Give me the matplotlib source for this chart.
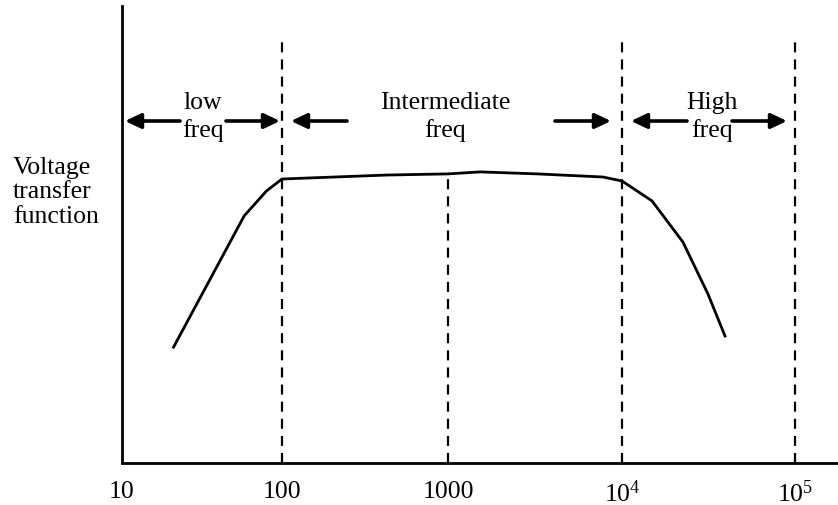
import numpy as np
import matplotlib
matplotlib.use("Agg")
import matplotlib.pyplot as plt

# ---- data ----
freq = [21, 58, 80, 100, 430, 1000, 1530, 3250, 7780, 10000, 14900, 22500, 31400, 39400]
gain = [0.408, 0.870, 0.958, 1.000, 1.014, 1.018, 1.025, 1.018, 1.007, 0.993, 0.923, 0.778, 0.595, 0.447]
boundaries = [100, 1000, 10000, 100000]
tick_vals = [10, 100, 1000, 10000, 100000]
tick_labels = ["10", "100", "1000", r"$10^{4}$", r"$10^{5}$"]
band_names = [["low", "freq"], ["Intermediate", "freq"], ["High", "freq"]]
ylabel_lines = ["Voltage", "transfer", "function"]

plt.rcParams['font.family'] = ['Liberation Serif', 'DejaVu Serif']
plt.rcParams['mathtext.fontset'] = 'custom'
plt.rcParams['mathtext.rm'] = 'Liberation Serif'
plt.rcParams['mathtext.it'] = 'Liberation Serif'

W, H = 838, 506
fig = plt.figure(figsize=(W / 100, H / 100), dpi=100)
ax_left, ax_right, ax_top, ax_bot = 122, 838, 7, 464
ax = fig.add_axes([ax_left / W, (H - ax_bot) / H, (ax_right - ax_left) / W, (ax_bot - ax_top) / H])

# decade layout of the reference (slightly uneven decades)
dec_log = np.array([1, 2, 3, 4, 5, 6], dtype=float)
dec_px = np.array([0, 160, 326, 500, 673, 846], dtype=float)

def fwd(x):
    x = np.asarray(x, dtype=float)
    return np.interp(np.log10(np.clip(x, 1e-3, None)), dec_log, dec_px)

def inv(p):
    return 10 ** np.interp(np.asarray(p, dtype=float), dec_px, dec_log)

ax.set_xscale('function', functions=(fwd, inv))
ax.set_xlim(10, inv(716))
ax.set_ylim(0, 457 / 284)

# curve
ax.plot(freq, gain, color='black', lw=2.0, solid_joinstyle='miter')

# dashed boundaries
dash = (0, (4.5, 3.2))
for b in boundaries:
    if b == 1000:
        top = np.interp(np.log10(b), np.log10(freq), gain)
        ax.plot([b, b], [0, top], color='black', lw=1.6, linestyle=dash)
    else:
        ax.plot([b, b], [0, (464 - 42) / 284], color='black', lw=1.6, linestyle=dash)

# spines
for s in ['top', 'right']:
    ax.spines[s].set_visible(False)
ax.spines['left'].set_linewidth(2.0)
ax.spines['bottom'].set_linewidth(2.0)
ax.tick_params(axis='y', left=False, labelleft=False)
ax.set_xticks(tick_vals)
ax.set_xticklabels(tick_labels, fontsize=18.5)
ax.tick_params(axis='x', length=0, pad=12)
ax.xaxis.set_minor_locator(matplotlib.ticker.NullLocator())

# arrows in axes-fraction coords
def fx(px):
    return (px - ax_left) / (ax_right - ax_left)

def fy(py):
    return (ax_bot - py) / (ax_bot - ax_top)

arrows = [(180, 125), (226, 280), (347, 291), (555, 611), (687, 631), (732, 787)]
for tail, head in arrows:
    ax.annotate('', xy=(fx(head), fy(122)), xytext=(fx(tail), fy(122)),
                xycoords='axes fraction', textcoords='axes fraction',
                arrowprops=dict(arrowstyle='-|>,head_length=0.95,head_width=0.45',
                                color='black', lw=2.6, shrinkA=0, shrinkB=0))

centers = [203, 445, 712]
for cx, (l1, l2) in zip(centers, band_names):
    ax.text(fx(cx), fy(103), l1, transform=ax.transAxes, ha='center', va='center', fontsize=18.5)
    ax.text(fx(cx), fy(131), l2, transform=ax.transAxes, ha='center', va='center', fontsize=18.5)

for i, t in enumerate(ylabel_lines):
    fig.text(13 / W, 1 - (168 + 24.5 * i) / H, t, ha='left', va='center', fontsize=18.5)

fig.savefig('out.png', dpi=100)
